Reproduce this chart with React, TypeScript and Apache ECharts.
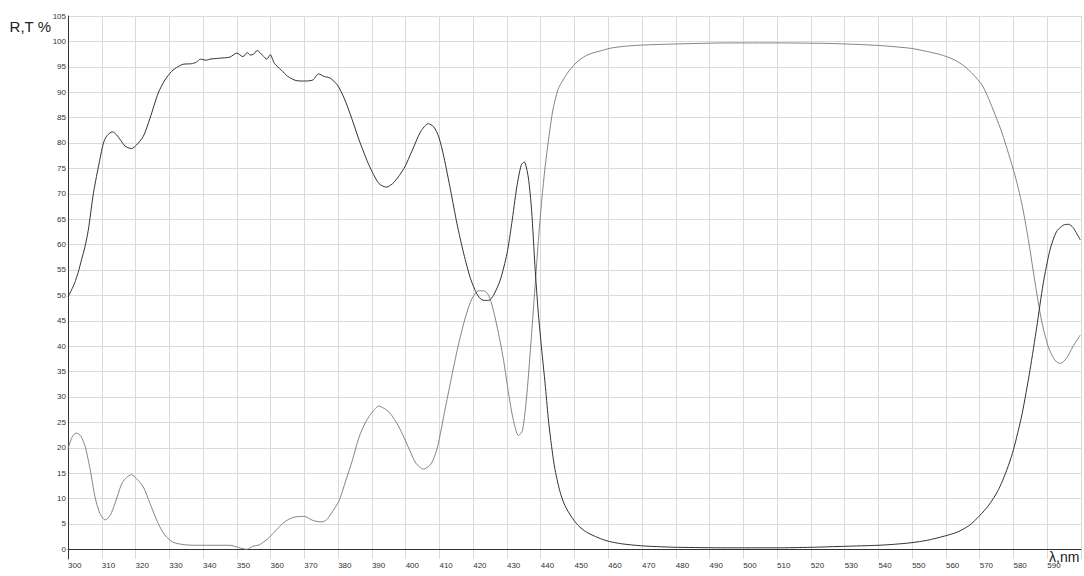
import React, { useEffect, useRef } from 'react';
import * as echarts from 'echarts';

// Reflection curve R (dark line)
const rWavelengths = [
  300, 301, 302, 303, 304, 305, 306, 307.5, 309, 310.5, 311.5, 313.1, 314.4, 316.9, 318.8, 320.3,
  322.3, 324.3, 326.7, 328.7, 330.7, 332.5, 334.1, 336.5, 338, 339.2, 341, 342, 344.9, 347.9,
  350, 351.8, 353.1, 354, 355, 356, 357.7, 358.9, 359.9, 361.1, 363.1, 365.1, 367.5, 370,
  372.5, 374.2, 375.9, 377.6, 379.8, 381.8, 384, 386.2, 388.7, 390.1, 392.1, 394.3, 396.6,
  399.5, 402, 404.4, 406.7, 408.3, 409.8, 411.3, 413.3, 415.2, 417.2, 419.2, 421.1, 422.6,
  424.6, 426, 428, 430, 431.4, 432.9, 434.2, 435.1, 436.3, 437.3, 438.3, 439.3, 440.3, 441.3,
  442.2, 443, 444.1, 445.6, 447.1, 449.1, 451.1, 453.5, 457, 460, 463.9, 469.8, 475.7, 480.6,
  495, 510, 520, 530, 539.9, 544.8, 549.7, 554.6, 559.5, 563.4, 566.9, 569.8, 572.7, 575.2,
  576.7, 578.5, 580, 582.5, 584.9, 586.9, 588.8, 590.8, 592.7, 594.7, 596.2, 597.6, 599.8,
];
const rValues = [
  49.7, 51, 52.5, 54.5, 57, 59.5, 62.8, 70, 75.3, 80, 81.4, 82.2, 81.6, 79.4, 78.9, 79.6,
  81.3, 84.9, 89.8, 92.4, 94.1, 95.0, 95.5, 95.6, 95.9, 96.5, 96.3, 96.5, 96.7, 96.9,
  97.7, 97, 97.8, 97.3, 97.5, 98.2, 97.2, 96.5, 97.4, 95.7, 94.4, 93.1, 92.3, 92.2,
  92.4, 93.6, 93.1, 92.8, 91.4, 88.8, 84.9, 80.6, 76.3, 74.3, 72, 71.3, 72.3,
  75, 78.6, 82.2, 83.8, 83.2, 81.2, 77.3, 70.7, 64.1, 58.2, 53.3, 50.3, 49.1,
  49, 50, 53, 58.2, 64.1, 71.3, 75.6, 76.3, 73.3, 66.7, 55.6, 46.4, 39.2, 32.6,
  26, 21.4, 16.2, 11.6, 8.7, 6.4, 4.7, 3.4, 2.3, 1.6, 1.1, 0.7, 0.5, 0.4,
  0.3, 0.3, 0.4, 0.6, 0.8, 1, 1.3, 1.8, 2.6, 3.4, 4.7, 6.5, 8.7, 11.3,
  13.4, 16.5, 19.6, 26.5, 35.3, 43.8, 52.3, 58.9, 62.5, 63.8, 64, 63.4, 60.9,
];

// Transmission curve T (light line)
const tWavelengths = [
  300, 301.2, 302.4, 303.8, 305.1, 306.6, 308, 309.5, 311, 312.5, 313.9, 315.9, 317.4, 318.8,
  320.3, 322.3, 324.3, 326.7, 328.7, 331.1, 334.6, 339, 343, 347.9, 350.8, 353, 354.7, 356.7,
  359.2, 361.1, 363.6, 365.6, 367.5, 370, 372.5, 374.9, 376.4, 378.3, 380.3, 382.3, 384.2,
  386.2, 388.2, 390.1, 392, 395.1, 398, 401, 403, 405.3, 407.5, 409.3, 411.8, 413.8, 415.7,
  417.7, 419.6, 421.6, 423.1, 424.6, 426, 427.5, 429, 430.5, 431.9, 433.4, 434.6, 435.9,
  437.3, 438.3, 439.3, 440.3, 441.3, 442.3, 443.6, 445.1, 446.6, 448.6, 451, 454, 457,
  460.9, 465.8, 470.8, 480.6, 495.4, 510, 525, 533.9, 540, 545.7, 550, 554.5, 558.4, 562.4,
  565.3, 568.2, 570.7, 572.6, 574.6, 576.6, 578.5, 580.5, 582.5, 584.4, 586.4, 588.3, 590.3,
  592.3, 593.9, 595.7, 597.6, 599.8,
];
const tValues = [
  19.8, 22.1, 22.9, 22.3, 20.2, 15.6, 10.3, 7, 5.8, 6.7, 9, 12.9, 14.2, 14.7,
  13.9, 12.3, 9, 5.1, 2.8, 1.4, 0.9, 0.8, 0.8, 0.8, 0.3, 0, 0.6, 0.9,
  2.1, 3.4, 5.1, 6, 6.4, 6.5, 5.7, 5.4, 5.7, 7.4, 9.6, 13.6, 17.5,
  22.1, 25.1, 27, 28.2, 27, 24.1, 19.8, 17, 15.8, 16.8, 19.8, 28, 34.6, 40.5,
  45.7, 49.3, 50.9, 50.9, 50, 47, 42.5, 37.2, 30.6, 25.4, 22.4, 23.4, 30.6,
  42.5, 51.6, 60.8, 68.7, 75.3, 80.6, 86.5, 90.5, 92.4, 94.4, 96.1, 97.4, 98,
  98.7, 99.1, 99.3, 99.5, 99.7, 99.7, 99.6, 99.4, 99.2, 98.9, 98.6, 98, 97.4, 96.4,
  95.2, 93.4, 91.4, 88.8, 85.5, 82, 78, 73.5, 68, 61, 52.5, 45.1, 39.9,
  37.2, 36.6, 37.6, 39.9, 42.2,
];

const yTickValues = [0, 5, 10, 15, 20, 25, 30, 35, 40, 45, 50, 55, 60, 65, 70, 75, 80, 85, 90, 95, 100, 105];

const FONT = '"Liberation Sans", Arial, sans-serif';

export default function App() {
  const ref = useRef<HTMLDivElement>(null);
  useEffect(() => {
    if (!ref.current) return;
    const chart = echarts.init(ref.current, undefined, { renderer: 'svg' });
    const gridLine = { lineStyle: { color: '#dadada', width: 1 } };
    chart.setOption({
      animation: false,
      backgroundColor: '#ffffff',
      grid: { left: 68, right: 0, top: 16, bottom: 17, containLabel: false },
      xAxis: {
        type: 'value',
        min: 300,
        max: 600,
        interval: 10,
        name: 'λ,nm',
        nameLocation: 'end',
        nameGap: -32,
        nameMoveOverlap: false,
        nameTextStyle: {
          fontSize: 14, color: '#222', fontFamily: FONT, align: 'left', verticalAlign: 'top', padding: [1, 0, 0, 0],
        },
        axisLine: { show: true, lineStyle: { color: '#333', width: 1 } },
        axisTick: { show: false },
        axisLabel: {
          fontSize: 8, color: '#333', fontFamily: FONT, align: 'left', margin: 2,
          formatter: (v: number) => (v >= 600 ? '' : String(v)),
        },
        splitLine: { show: true, ...gridLine },
      },
      yAxis: {
        type: 'value',
        min: -1.9,
        max: 105,
        name: 'R,T %',
        nameLocation: 'end',
        nameGap: -10,
        nameMoveOverlap: false,
        nameTextStyle: {
          fontSize: 15, color: '#222', fontFamily: FONT, align: 'right', verticalAlign: 'middle', padding: [0, 17, 0, 0],
        },
        axisLine: { show: true, lineStyle: { color: '#333', width: 1 } },
        axisTick: { show: false, customValues: yTickValues },
        axisLabel: {
          customValues: yTickValues,
          fontSize: 8, color: '#333', fontFamily: FONT, margin: 2, verticalAlign: 'middle', padding: [6, 0, 0, 0],
        },
        splitLine: { show: true, ...gridLine },
      },
      series: [
        {
          name: 'R',
          type: 'line',
          data: rWavelengths.map((x, i) => [x, rValues[i]]),
          showSymbol: false,
          symbol: 'none',
          smooth: 0.25,
          lineStyle: { color: '#333333', width: 1 },
          z: 3,
        },
        {
          name: 'T',
          type: 'line',
          data: tWavelengths.map((x, i) => [x, tValues[i]]),
          showSymbol: false,
          symbol: 'none',
          smooth: 0.25,
          lineStyle: { color: '#777777', width: 0.9 },
          z: 2,
        },
      ],
    });
    return () => chart.dispose();
  }, []);
  return (
    <div
      ref={ref}
      style={{ position: 'fixed', left: 0, top: 0, width: '1084px', height: '576px', background: '#fff' }}
    />
  );
}
